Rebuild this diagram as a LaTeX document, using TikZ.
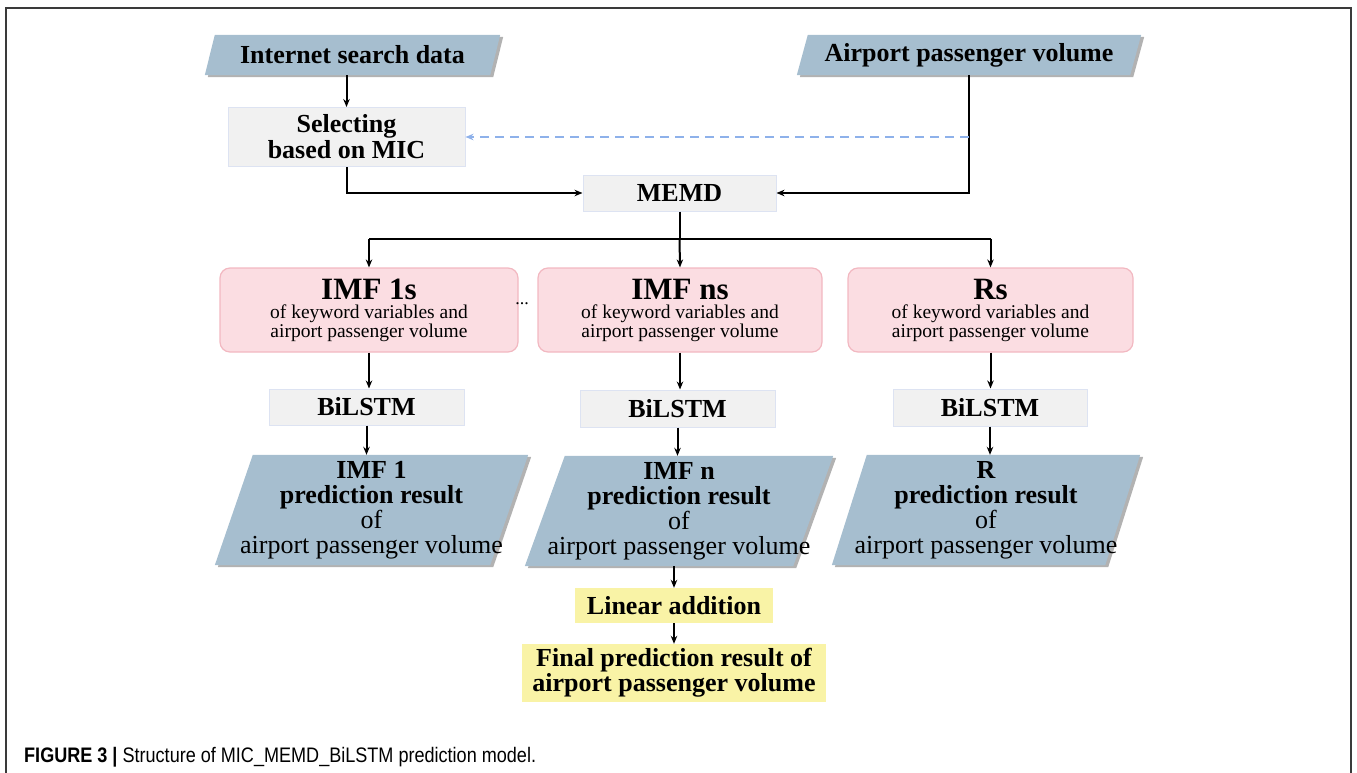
\documentclass[tikz,border=0pt]{standalone}
\usepackage{fontspec}
\setmainfont{Liberation Serif}
\newfontfamily\capfont[FakeStretch=0.86]{Liberation Sans}
\usetikzlibrary{arrows.meta,backgrounds,calc}
\definecolor{pblue}{HTML}{A6BECF}
\definecolor{pinkf}{HTML}{FBDDE2}
\definecolor{pinkd}{HTML}{F2B8C1}
\definecolor{grayf}{HTML}{F1F1F1}
\definecolor{grayd}{HTML}{DDE3F2}
\definecolor{yelf}{HTML}{F9F3A6}
\definecolor{dblue}{HTML}{8EB1EA}
\definecolor{framec}{HTML}{3A3A3A}
\newcommand\paral[2]{%
  \begin{scope}[on background layer]
    \fill[black!55,opacity=0.55] ($(#1.north west)+(#2+3,2)$) -- ($(#1.north east)+(3,2)$) -- ($(#1.south east)+(-#2+3,2)$) -- ($(#1.south west)+(3,2)$) -- cycle;
    \fill[pblue] ($(#1.north west)+(#2,0)$) -- (#1.north east) -- ($(#1.south east)+(-#2,0)$) -- (#1.south west) -- cycle;
  \end{scope}}
\begin{document}
\begin{tikzpicture}[x=1pt,y=-1pt,
  arr/.style={line width=2pt,-{Stealth[length=8pt,width=6.5pt]}},
  ln/.style={line width=2pt},
  box/.style={draw=grayd,fill=grayf,line width=1pt,font=\fontsize{26}{26}\selectfont\bfseries,align=center,inner sep=0pt},
  ybox/.style={fill=yelf,font=\fontsize{26}{25}\selectfont\bfseries,align=center,inner sep=0pt},
  pbox/.style={draw=pinkd,fill=pinkf,line width=1.2pt,rounded corners=10pt,align=center,inner sep=0pt,font=\fontsize{19.5}{19}\selectfont},
  ptxt/.style={draw=none,align=center,inner sep=0pt,font=\fontsize{26}{25}\selectfont},
]
\useasboundingbox (0,0) rectangle (1357,773);
\draw[framec,line width=1.2pt] (6,790) -- (6,8) -- (1351,8) -- (1351,790);

% top inputs
\node[ptxt,minimum width=295pt,minimum height=40pt,font=\fontsize{26}{26}\selectfont\bfseries] (isd) at (352.5,55) {Internet search data};
\paral{isd}{10}
\node[ptxt,minimum width=344pt,minimum height=40pt,font=\fontsize{26}{26}\selectfont\bfseries] (apv) at (969,55) {Airport passenger volume};
\paral{apv}{11}

\node[box,minimum width=237pt,minimum height=59pt] (sel) at (346.5,137) {Selecting\\based on MIC};
\node[box,minimum width=193pt,minimum height=36pt] (mem) at (679.5,193) {MEMD};

% pink boxes
\node[pbox,minimum width=298pt,minimum height=84pt] (p1) at (369,310) {{\fontsize{31}{24}\selectfont\bfseries IMF 1s}\\of keyword variables and\\airport passenger volume};
\node[pbox,minimum width=284pt,minimum height=84pt] (pn) at (680,310) {{\fontsize{31}{24}\selectfont\bfseries IMF ns}\\of keyword variables and\\airport passenger volume};
\node[pbox,minimum width=285pt,minimum height=84pt] (pr) at (990.5,310) {{\fontsize{31}{24}\selectfont\bfseries Rs}\\of keyword variables and\\airport passenger volume};
\node[font=\fontsize{18}{18}\selectfont,inner sep=0pt] (dots) at (522,304) {...};

% BiLSTM
\node[box,minimum width=195pt,minimum height=36pt] (b1) at (366.5,407) {BiLSTM};
\node[box,minimum width=195pt,minimum height=37pt] (bn) at (677.5,408.5) {BiLSTM};
\node[box,minimum width=194pt,minimum height=37pt] (br) at (990,407.5) {BiLSTM};

% prediction parallelograms
\node[ptxt,minimum width=313pt,minimum height=110pt] (r1) at (371.5,510) {\textbf{IMF 1}\\\textbf{prediction result}\\of\\airport passenger volume};
\paral{r1}{38}
\node[ptxt,minimum width=308pt,minimum height=110pt] (rn) at (679,511) {\textbf{IMF n}\\\textbf{prediction result}\\of\\airport passenger volume};
\paral{rn}{40}
\node[ptxt,minimum width=308pt,minimum height=110pt] (rr) at (986,510) {\textbf{R}\\\textbf{prediction result}\\of\\airport passenger volume};
\paral{rr}{35}

\node[ybox,minimum width=198pt,minimum height=35pt] (lin) at (674,605.5) {Linear addition};
\node[ybox,minimum width=304pt,minimum height=58pt] (fin) at (674,673) {Final prediction result of\\airport passenger volume};

% connectors
\draw[arr] (isd.south -| sel.north) -- (sel.north);
\draw[arr] (sel.south) |- (mem.west);
\draw[arr] (apv.south) |- (mem.east);
\coordinate (dstart) at (apv.south |- sel.east);
\draw[dblue,line width=2pt,dash pattern=on 9pt off 6pt,-{Stealth[length=8pt,width=6.5pt]}] (dstart) -- (sel.east);
\coordinate (split) at ($(mem.south)+(0,27)$);
\draw[ln] (mem.south) -- (split);
\draw[ln] (split -| p1.north) -- (split -| pr.north);
\draw[arr] (split -| p1.north) -- (p1.north);
\draw[arr] (split) -- (pn.north);
\draw[arr] (split -| pr.north) -- (pr.north);
\draw[arr] (p1.south) -- (p1.south |- b1.north);
\draw[arr] (pn.south) -- (pn.south |- bn.north);
\draw[arr] (pr.south) -- (pr.south |- br.north);
\draw[arr] (b1.south) -- (b1.south |- r1.north);
\draw[arr] (bn.south) -- (bn.south |- rn.north);
\draw[arr] (br.south) -- (br.south |- rr.north);
\draw[arr] (rn.south -| lin.north) -- (lin.north);
\draw[arr] (lin.south) -- (fin.north);

% caption
\node[anchor=west,inner sep=0pt,font=\capfont\fontsize{21}{24}\selectfont] (cap) at (24,757) {\textbf{FIGURE 3 |} Structure of MIC\_MEMD\_BiLSTM prediction model.};
\end{tikzpicture}
\end{document}
